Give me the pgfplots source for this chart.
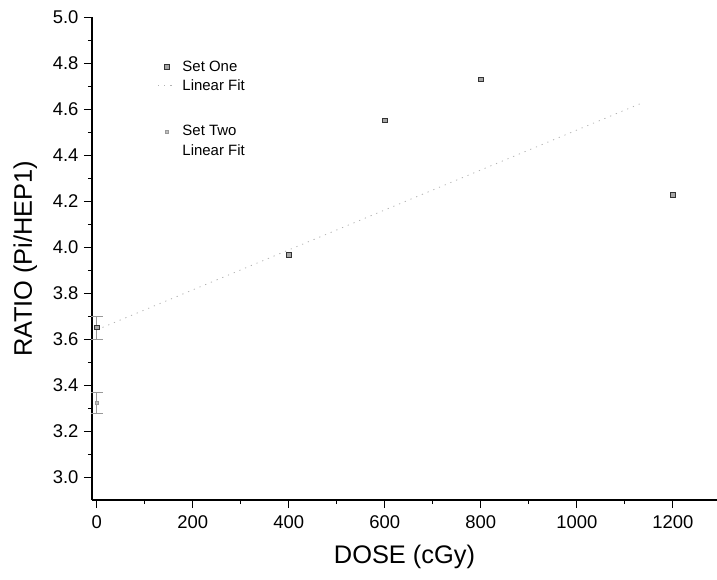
\documentclass[border=0pt]{standalone}
\usepackage{pgfplots}
\pgfplotsset{compat=1.18}
\usepackage{fontspec}
\setmainfont{Liberation Sans}
\usetikzlibrary{calc}
\begin{document}
\begin{tikzpicture}[x=1bp,y=1bp]
\begin{axis}[
  name=ax,
  scale only axis,
  width=625bp, height=483bp,
  xmin=-10, xmax=1292,
  ymin=2.9, ymax=5.0,
  axis x line*=bottom,
  axis y line*=left,
  axis line style={black, line width=1.1pt},
  tick align=outside,
  major tick length=8bp,
  minor tick length=4bp,
  tick style={black, line width=0.9pt},
  xtick={0,200,...,1200},
  ytick={3.0,3.2,...,5.01},
  minor x tick num=1,
  minor y tick num=1,
  /pgf/number format/assume math mode=true,
  yticklabel style={/pgf/number format/fixed, /pgf/number format/fixed zerofill, /pgf/number format/precision=1, font=\fontsize{18.5}{20}\selectfont, xshift=-2bp},
  xticklabel style={/pgf/number format/1000 sep={}, font=\fontsize{18.5}{20}\selectfont, yshift=-4bp},
  scaled y ticks=false,
  xlabel={DOSE (cGy)},
  ylabel={RATIO (Pi/HEP1)},
  label style={font=\fontsize{25.5}{28}\selectfont},
  xlabel style={yshift=-10bp},
  ylabel style={yshift=9bp},
  legend style={draw=none, fill=none, font=\fontsize{15}{17}\selectfont,
     at={(0.1,0.918)}, anchor=north west, row sep=3bp,
     legend cell align=left, nodes={inner xsep=7bp}},
  clip=false,
]
% Set One data
\addplot[only marks, mark=square*, mark size=2.2bp, mark options={fill=gray!70, draw=black!80, line width=0.5pt}]
  coordinates {
   (0,3.65)
   (400,3.967)
   (600,4.55)
   (800,4.73)
   (1200,4.228)
  };
\addlegendentry{Set One}
% Set One linear fit
\addplot[gray!60, line width=0.8pt, dash pattern=on 1.2pt off 5pt]
  coordinates {(0,3.64) (1140,4.63)};
\addlegendentry{Linear Fit}
\addlegendimage{empty legend}
\addlegendentry{\rule{0pt}{18bp}}
% Set Two data
\addplot[only marks, mark=square*, mark size=1.6bp, mark options={fill=gray!50, draw=gray!80, line width=0.4pt}]
  coordinates {
   (0,3.322)
  };
\addlegendentry{Set Two}
% Set Two linear fit (nearly invisible in the scan)
\addlegendimage{white, line width=0pt}
\addlegendentry{Linear Fit}
% error bars at dose 0
\addplot[draw=none, forget plot, error bars/.cd, y dir=both, y explicit,
  error bar style={gray!80, line width=0.7pt},
  error mark options={rotate=90, mark size=6bp, gray!80, line width=0.7pt}]
  coordinates {(0,3.65) +- (0,0.05) (0,3.322) +- (0,0.046)};
\end{axis}
\pgfresetboundingbox
\path ($(ax.south west)+(-92bp,-80bp)$) rectangle ($(ax.north east)+(0,17bp)$);
\end{tikzpicture}
\end{document}
